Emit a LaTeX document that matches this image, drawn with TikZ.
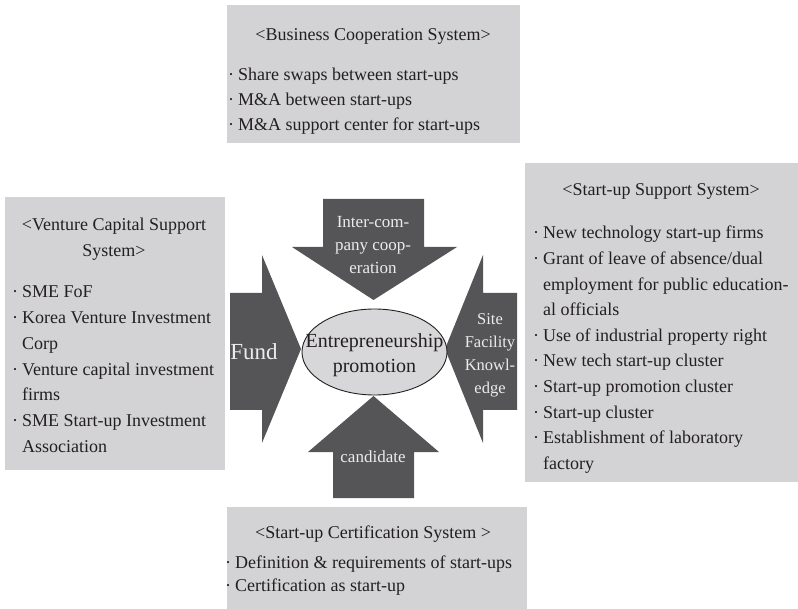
\documentclass[tikz,border=0pt]{standalone}
\usepackage{fontspec}
\setmainfont{Liberation Serif}
\usetikzlibrary{shapes.geometric}
\definecolor{panelgray}{RGB}{211,211,213}
\definecolor{arrowgray}{RGB}{85,85,87}
\definecolor{hubgray}{RGB}{215,215,217}
\definecolor{ink}{RGB}{35,31,32}
\definecolor{arrowtext}{RGB}{236,236,236}
% one bullet hanging to the left of a list line
\newcommand{\bul}{\llap{\textperiodcentered\hspace{4pt}}}
\newcommand{\leftlines}[1]{\begin{tabular}[t]{@{}l@{}}#1\end{tabular}}
\newcommand{\midlines}[1]{\begin{tabular}[t]{@{}c@{}}#1\end{tabular}}
\begin{document}
\begin{tikzpicture}[x=1pt,y=-1pt,
  panel/.style={fill=panelgray, draw=none, inner sep=0pt, outer sep=0pt, anchor=north west},
  bigarrow/.style={fill=arrowgray, draw=none},
  body/.style={inner sep=0pt, text=ink, font=\fontsize{18}{25.7}\selectfont},
  onarrow/.style={inner sep=0pt, text=arrowtext, font=\fontsize{17}{23}\selectfont},
]
\useasboundingbox (0,0) rectangle (798,609);

% gray panels
\node[panel, minimum width=293pt, minimum height=138pt] (coop) at (227,5) {};
\node[panel, minimum width=220pt, minimum height=273pt] (vc) at (5,197) {};
\node[panel, minimum width=273pt, minimum height=319pt] (support) at (525,163) {};
\node[panel, minimum width=300pt, minimum height=102pt] (cert) at (227,507) {};

% panel texts
\node[body, anchor=base] (coopT) at (373,41) {<Business Cooperation System>};
\node[body, anchor=base west, font=\fontsize{18}{25}\selectfont] (coopL) at (238,81)
  {\leftlines{\bul Share swaps between start-ups\\
              \bul M\&A between start-ups\\
              \bul M\&A support center for start-ups}};

\node[body, anchor=base] (vcT) at (114,231)
  {\midlines{<Venture Capital Support\\System>}};
\node[body, anchor=base west] (vcL) at (22,298)
  {\leftlines{\bul SME FoF\\
              \bul Korea Venture Investment\\
              Corp\\
              \bul Venture capital investment\\
              firms\\
              \bul SME Start-up Investment\\
              Association}};

\node[body, anchor=base] (supT) at (661,196) {<Start-up Support System>};
\node[body, anchor=base west, font=\fontsize{18}{25.6}\selectfont] (supL) at (543,239)
  {\leftlines{\bul New technology start-up firms\\
              \bul Grant of leave of absence/dual\\
              employment for public education-\\
              al officials\\
              \bul Use of industrial property right\\
              \bul New tech start-up cluster\\
              \bul Start-up promotion cluster\\
              \bul Start-up cluster\\
              \bul Establishment of laboratory\\
              factory}};

\node[body, anchor=base] (certT) at (373,538) {<Start-up Certification System >};
\node[body, anchor=base west, font=\fontsize{18}{23.4}\selectfont] (certL) at (235,568)
  {\leftlines{\bul Definition \& requirements of start-ups\\
              \bul Certification as start-up}};

% four block arrows pointing at the hub
\path[bigarrow] (323,199) -- (424,199) -- (424,247) -- (457,247) -- (373.5,300)
  -- (292,247) -- (323,247) -- cycle;
\path[bigarrow] (333,498) -- (414,498) -- (414,452) -- (439,452) -- (373.5,396)
  -- (308,452) -- (333,452) -- cycle;
\path[bigarrow] (230,293) -- (262,293) -- (262,255) -- (301,349) -- (262,443)
  -- (262,410) -- (230,410) -- cycle;
\path[bigarrow] (517,293) -- (483,293) -- (483,255) -- (445,349) -- (483,443)
  -- (483,410) -- (517,410) -- cycle;

% arrow labels
\node[onarrow, anchor=base] (coopA) at (373,228)
  {\midlines{Inter-com-\\pany coop-\\eration}};
\node[onarrow, anchor=base] (certA) at (373,462) {candidate};
\node[onarrow, anchor=base, font=\fontsize{23}{26}\selectfont] (fundA) at (254,360) {Fund};
\node[onarrow, anchor=base, font=\fontsize{16.5}{23}\selectfont] (supA) at (490,325)
  {\midlines{Site\\Facility\\Knowl-\\edge}};

% central hub
\node[draw=ink, fill=hubgray, line width=0.9pt, ellipse, minimum width=145pt,
      minimum height=86pt, inner sep=0pt] (hub) at (374.5,352) {};
\node[body, anchor=base, font=\fontsize{20}{24.5}\selectfont] (hubT) at (374.5,348)
  {\midlines{Entrepreneurship\\promotion}};
\end{tikzpicture}
\end{document}
